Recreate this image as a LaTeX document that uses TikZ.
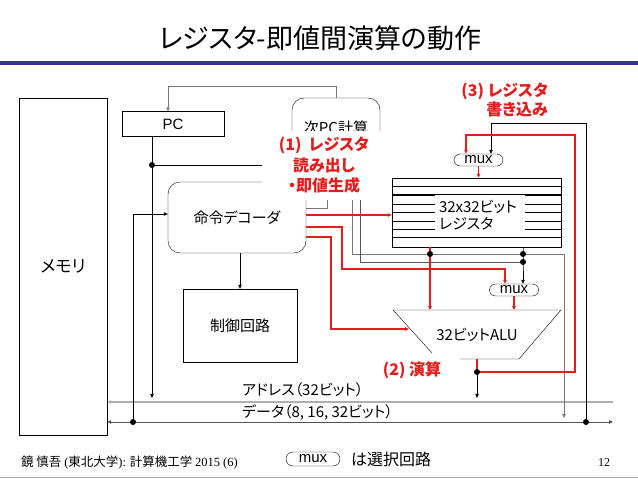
\documentclass[tikz,border=0pt]{standalone}
\usepackage{fontspec}
\setmainfont[RawFeature=+palt]{Noto Sans CJK JP}
\newfontfamily\arialfont{Liberation Sans}
\newfontfamily\seriffont{Liberation Serif}
\usepackage{tikz}
\usetikzlibrary{arrows.meta,shapes.misc,positioning}
\definecolor{slidered}{RGB}{228,28,28}
\definecolor{slideblue}{RGB}{51,51,153}
\definecolor{wiregray}{RGB}{120,120,120}
\definecolor{busgray}{RGB}{175,175,175}
\definecolor{datagray}{RGB}{85,85,85}
\tikzstyle{block} = [rectangle, draw, thin, inner sep=0pt, font=\fontsize{15}{18}\selectfont]
\tikzstyle{rblock} = [block, rounded corners=12pt]
\tikzstyle{muxbox} = [rounded rectangle, draw, thin, minimum width=49pt, minimum height=12pt, inner sep=0pt, font=\arialfont\fontsize{15}{15}\selectfont]
\tikzstyle{wire} = [thin, -{Triangle[length=4pt,width=3.5pt]}]
\tikzstyle{rwire} = [wire, color=slidered, line width=1.6pt]
\tikzstyle{redlabel} = [text=slidered, align=center, inner sep=0pt, font=\bfseries\fontsize{16}{20.5}\selectfont]
\tikzstyle{plain} = [inner sep=0pt, font=\fontsize{15}{17}\selectfont]

\begin{document}
\begin{tikzpicture}[x=1pt, y=-1pt]
\useasboundingbox (0,0) rectangle (638,479);
% title
\node[font=\fontsize{27}{30}\selectfont] (title) at (320,38) {レジスタ-即値間演算の動作};
\fill[slideblue] (0,61) rectangle (638,65);

% blocks
\node[block, minimum width=88pt, minimum height=337pt, font=\fontsize{17}{20}\selectfont] (mem) at (63,266.5) {メモリ};
\node[block, minimum width=102pt, minimum height=25pt, font=\arialfont\fontsize{15}{16}\selectfont] (pc) at (173,124) {PC};
\node[rblock, minimum width=88pt, inner sep=4pt, text height=31pt, text depth=41pt] (npc) at (336,138) {次PC計算};
\node[rblock, minimum width=138pt, minimum height=71pt] (dec) at (237,217.5) {命令デコーダ};
\node[block, minimum width=114pt, minimum height=73pt] (ctrl) at (240,325.5) {制御回路};
\node[block, minimum width=169pt, minimum height=69pt] (reg) at (476.5,212.5) {};
\foreach \y in {186.6,203.8,212.4,221,237.6}
  \draw[thin] (reg.west |- 0,\y) -- (reg.east |- 0,\y);
\foreach \y in {195.2,229.5}
  \draw[line width=1.8pt] (reg.west |- 0,\y) -- (reg.east |- 0,\y);
\node[fill=white, inner sep=0pt, minimum width=90pt, minimum height=42pt, text width=82pt, align=left, font=\fontsize{15}{17}\selectfont] (regtxt) at (480,215.5) {32x32ビット\\レジスタ};
\node[muxbox] (wmux) at (478.5,160) {mux};
\node[muxbox] (amux) at (514,290) {mux};
% ALU
\draw[thin] (432,353) -- (393,310) -- (561,310) -- (519,359) -- (460,359);
\node[plain] (alu) at (477,335) {32ビットALU};

% junctions and bus ends
\coordinate (pcdot) at (152,165);
\coordinate (idot) at (133,422);
\coordinate (rd1) at (430,254);
\coordinate (rd2) at (523,254);
\coordinate (rd2b) at (523,262);
\coordinate (resdot) at (477,372);
\coordinate (ldot) at (586,422);
\coordinate (alutl) at (393,310);
\coordinate (aluin) at (409,329);
\coordinate (aluout) at (477,359);
\coordinate (pcfb) at (168,86);
\coordinate (wb) at (575,135);
\coordinate (stx) at (564,422);
\coordinate (abusR) at (613,402);
\coordinate (dbusR) at (613,422);

% buses
\draw[busgray, line width=1.6pt, -{Triangle[length=4pt,width=3.5pt]}, color=busgray] (abusR) -- (abusR -| mem.east);
\draw[datagray, line width=0.9pt, {Triangle[length=4pt,width=3.5pt]}-{Triangle[length=4pt,width=3.5pt]}] (dbusR -| mem.east) -- (dbusR);
\node[plain, anchor=west] (addrlbl) at (242,390) {アドレス（32ビット）};
\node[plain, anchor=west] (datalbl) at (242,413) {データ（8, 16, 32ビット）};

% black and gray wires
\draw[wire, wiregray] (npc.north) |- (pcfb) -- (pcfb |- pc.north);
\draw[wire, shorten >=4pt] (pcdot |- pc.south) -- (pcdot |- abusR);
\draw[thin] (pcdot) -- (pcdot -| npc.west);
\draw[wire] (idot) |- ([yshift=3.5pt]dec.west);
\draw[wire] (ctrl.north |- dec.south) -- (ctrl.north);
\draw[thin, wiregray] ([yshift=9.5pt]dec.east) -| ([xshift=-9pt]npc.south);
\draw[thin, wiregray] (rd2) -| ([xshift=16pt]npc.south);
\draw[thin, datagray] (rd2b) -| ([xshift=24pt]npc.south);
\draw[wire, wiregray, shorten >=4pt] (rd2) -| (stx);
\draw[wire] (rd2 |- reg.south) -- (rd2b) -- (rd2 |- amux.north);
\draw[wire, shorten >=4pt] (resdot) -- (resdot |- abusR);
\draw[wire] (ldot) -- ++(0,-299) -| ([xshift=12.5pt]wmux.north);

% red wires
\draw[rwire] ([yshift=2.5pt]dec.east) -- ([yshift=2.5pt]dec.east -| reg.west);
\draw[rwire] ([yshift=-9.5pt]dec.east) -- ++(36,0) -- ++(0,42) -| ([xshift=-9pt]amux.north);
\draw[rwire] ([yshift=-19.5pt]dec.east) -- ++(25,0) |- (aluin);
\draw[rwire] (rd1 |- reg.south) -- (rd1 |- alutl);
\draw[rwire] (amux.south) -- (amux.south |- alutl);
\draw[rwire] (aluout) -- (resdot) -| (wb) -| ([xshift=-12.5pt]wmux.north);
\draw[rwire] (wmux.south) -- (wmux.south |- reg.north);

% dots
\foreach \d in {pcdot,idot,rd1,rd2,rd2b,resdot,ldot}
  \fill (\d) circle (3pt);

% step labels
\node[redlabel, fill=white, minimum width=125pt, minimum height=69pt] (readlbl) at (324,165.5) {(1)\ \ レジスタ\\読み出し\\・即値生成};
\node[redlabel, align=right, anchor=east, font=\bfseries\fontsize{16}{19}\selectfont] (writelbl) at (548,99.5) {(3) レジスタ\\書き込み};
\node[redlabel] (execlbl) at (412,370) {(2) 演算};

% footer
\draw[busgray, line width=1pt] (0,477) -- (638,477);
\node[anchor=west, inner sep=0pt, font=\fontsize{12.5}{14}\selectfont] (author) at (21,463) {鏡 慎吾 {\seriffont (}東北大学{\seriffont ):} 計算機工学 {\seriffont 2015 (6)}};
\node[muxbox, minimum width=54pt, minimum height=14pt] (legmux) at (313,459) {mux};
\node[anchor=west, inner sep=0pt, font=\fontsize{16}{18}\selectfont] (legtxt) at (351,459) {は選択回路};
\node[inner sep=0pt, font=\seriffont\fontsize{12}{14}\selectfont] (pageno) at (604,463) {12};
\end{tikzpicture}
\end{document}
